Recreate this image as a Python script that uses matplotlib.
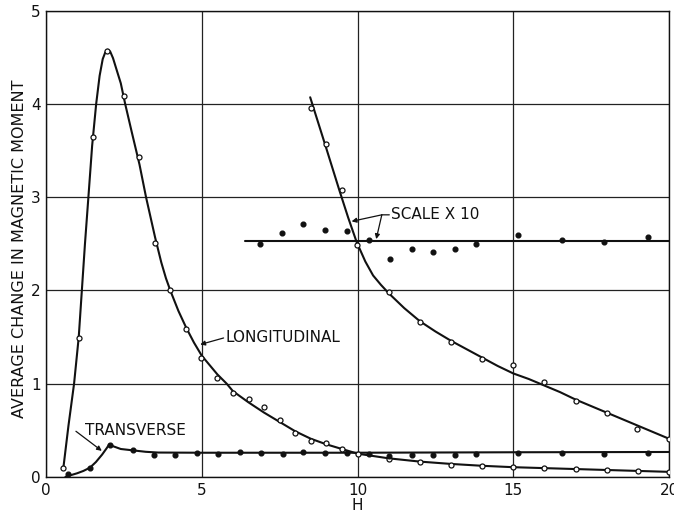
import numpy as np
import matplotlib.pyplot as plt

# --- 讀取自原圖的數據 ---
# longitudinal, measured points (open circles)
long_x = [0.54, 1.05, 1.50, 1.97, 2.50, 3.00, 3.50, 3.98, 4.49, 4.98, 5.49, 6.00,
          6.50, 7.00, 7.51, 8.00, 8.50, 9.00, 9.49, 10.03, 11.0, 12.0, 13.0, 14.0,
          15.0, 16.0, 17.0, 18.0, 19.0, 20.0]
long_y = [0.10, 1.49, 3.64, 4.57, 4.08, 3.43, 2.51, 2.00, 1.59, 1.28, 1.06, 0.90,
          0.84, 0.75, 0.61, 0.47, 0.39, 0.36, 0.30, 0.25, 0.19, 0.16, 0.13, 0.12,
          0.11, 0.10, 0.09, 0.075, 0.06, 0.05]
# longitudinal, fitted curve
long_cx = [0.55, 0.72, 0.90, 1.05, 1.15, 1.25, 1.36, 1.48, 1.61, 1.72, 1.82, 1.90,
           1.98, 2.06, 2.15, 2.27, 2.40, 2.54, 2.75, 3.00, 3.21, 3.50, 3.70, 3.85,
           4.00, 4.25, 4.50, 4.75, 5.00, 5.50, 5.80, 6.00, 6.50, 7.00, 7.50, 8.00,
           8.50, 9.00, 9.50, 10.0, 11.0, 12.0, 13.0, 14.0, 15.0, 16.0, 17.0, 18.0,
           19.0, 20.0]
long_cy = [0.08, 0.55, 1.00, 1.50, 2.00, 2.50, 3.00, 3.55, 4.00, 4.30, 4.48, 4.55,
           4.58, 4.56, 4.49, 4.36, 4.22, 4.00, 3.70, 3.35, 3.00, 2.57, 2.30, 2.13,
           1.99, 1.78, 1.60, 1.44, 1.30, 1.10, 1.00, 0.92, 0.80, 0.69, 0.59, 0.49,
           0.41, 0.35, 0.30, 0.25, 0.20, 0.165, 0.14, 0.12, 0.105, 0.095, 0.085,
           0.075, 0.065, 0.055]

# longitudinal, scale x 10
long10_x = [8.50, 9.00, 9.49, 9.97, 11.0, 12.0, 13.0, 14.0, 14.98, 16.0, 17.0,
            18.0, 18.98, 20.0]
long10_y = [3.96, 3.57, 3.08, 2.49, 1.98, 1.66, 1.45, 1.27, 1.20, 1.02, 0.81,
            0.69, 0.51, 0.41]
long10_cx = [8.48, 9.00, 9.42, 9.70, 9.97, 10.25, 10.50, 10.75, 11.0, 11.5, 12.0,
             12.5, 13.0, 13.5, 14.0, 14.5, 15.0, 15.5, 16.0, 16.5, 17.0, 17.5, 18.0,
             18.5, 19.0, 19.5, 20.0]
long10_cy = [4.07, 3.52, 3.07, 2.78, 2.52, 2.31, 2.16, 2.06, 1.97, 1.81, 1.67,
             1.56, 1.46, 1.37, 1.28, 1.19, 1.11, 1.05, 0.98, 0.91, 0.83, 0.76, 0.69,
             0.62, 0.55, 0.48, 0.41]

# transverse, measured points (filled dots)
trans_x = [0.72, 1.41, 2.05, 2.80, 3.47, 4.14, 4.84, 5.52, 6.23, 6.91, 7.60, 8.26,
           8.97, 9.65, 10.37, 11.02, 11.74, 12.43, 13.13, 13.80, 15.16, 16.55,
           17.91, 19.32]
trans_y = [0.03, 0.10, 0.34, 0.29, 0.24, 0.24, 0.26, 0.25, 0.27, 0.26, 0.25, 0.27,
           0.26, 0.26, 0.25, 0.22, 0.24, 0.24, 0.24, 0.25, 0.26, 0.26, 0.25, 0.26]
trans_cx = [0.62, 0.80, 1.00, 1.20, 1.41, 1.60, 1.80, 1.95, 2.03, 2.15, 2.40, 2.80,
            3.20, 3.60, 5.0, 10.0, 15.0, 20.0]
trans_cy = [0.00, 0.02, 0.04, 0.065, 0.10, 0.16, 0.24, 0.31, 0.35, 0.33, 0.30, 0.285,
            0.27, 0.262, 0.26, 0.26, 0.265, 0.268]

# transverse, scale x 10
trans10_x = [6.87, 7.57, 8.26, 8.96, 9.65, 10.37, 11.04, 11.74, 12.43, 13.13,
             13.80, 15.16, 16.55, 17.91, 19.32]
trans10_y = [2.50, 2.62, 2.71, 2.65, 2.64, 2.54, 2.34, 2.44, 2.41, 2.44, 2.50,
             2.59, 2.54, 2.52, 2.57]
trans10_cx = [6.4, 20.0]
trans10_cy = [2.53, 2.53]

INK = '#111111'

fig = plt.figure(figsize=(6.74, 5.13), dpi=100)
ax = fig.add_axes([0.0683, 0.0702, 0.9243, 0.9093])

# 曲線
for cx, cy in [(long_cx, long_cy), (long10_cx, long10_cy),
               (trans_cx, trans_cy), (trans10_cx, trans10_cy)]:
    ax.plot(cx, cy, color=INK, lw=1.5, solid_capstyle='round',
            solid_joinstyle='round', zorder=3)

# 數據點
for px, py in [(long_x, long_y), (long10_x, long10_y)]:
    ax.plot(px, py, 'o', ms=3.6, mfc='white', mec=INK, mew=0.9, zorder=4)
for px, py in [(trans_x, trans_y), (trans10_x, trans10_y)]:
    ax.plot(px, py, 'o', ms=3.4, mfc=INK, mec=INK, zorder=4)

# 標註
arr = dict(arrowstyle='-|>', color=INK, lw=0.9, mutation_scale=7, shrinkA=0, shrinkB=0)
seg = dict(arrowstyle='-', color=INK, lw=0.9, shrinkA=0, shrinkB=0)
ax.text(5.75, 1.50, 'LONGITUDINAL', fontsize=11, va='center', ha='left', color=INK)
ax.annotate('', xy=(4.95, 1.42), xytext=(5.70, 1.49), arrowprops=arr)
ax.text(1.25, 0.50, 'TRANSVERSE', fontsize=11, va='center', ha='left', color=INK)
ax.annotate('', xy=(1.79, 0.28), xytext=(0.96, 0.49), arrowprops=arr)
ax.text(11.07, 2.81, 'SCALE X 10', fontsize=11, va='center', ha='left', color=INK)
ax.annotate('', xy=(9.81, 2.74), xytext=(10.78, 2.81), arrowprops=arr)
ax.annotate('', xy=(10.6, 2.55), xytext=(10.78, 2.81), arrowprops=arr)
ax.annotate('', xy=(11.02, 2.81), xytext=(10.78, 2.81), arrowprops=seg)

ax.set_xlim(0, 20)
ax.set_ylim(0, 5)
ax.set_xticks([0, 5, 10, 15, 20])
ax.set_yticks([0, 1, 2, 3, 4, 5])
ax.grid(True, color='#222222', lw=0.9)
ax.set_axisbelow(True)
ax.tick_params(length=0, labelsize=11, colors=INK, pad=4)
for s in ax.spines.values():
    s.set_color(INK)
    s.set_linewidth(1.0)

ax.set_xlabel('H', fontsize=11, color=INK)
ax.xaxis.set_label_coords(0.5, -0.046)
ax.set_ylabel('AVERAGE CHANGE IN MAGNETIC MOMENT', fontsize=11.5, color=INK)
ax.yaxis.set_label_coords(-0.03, 0.489)

fig.savefig('out.png', dpi=100)
